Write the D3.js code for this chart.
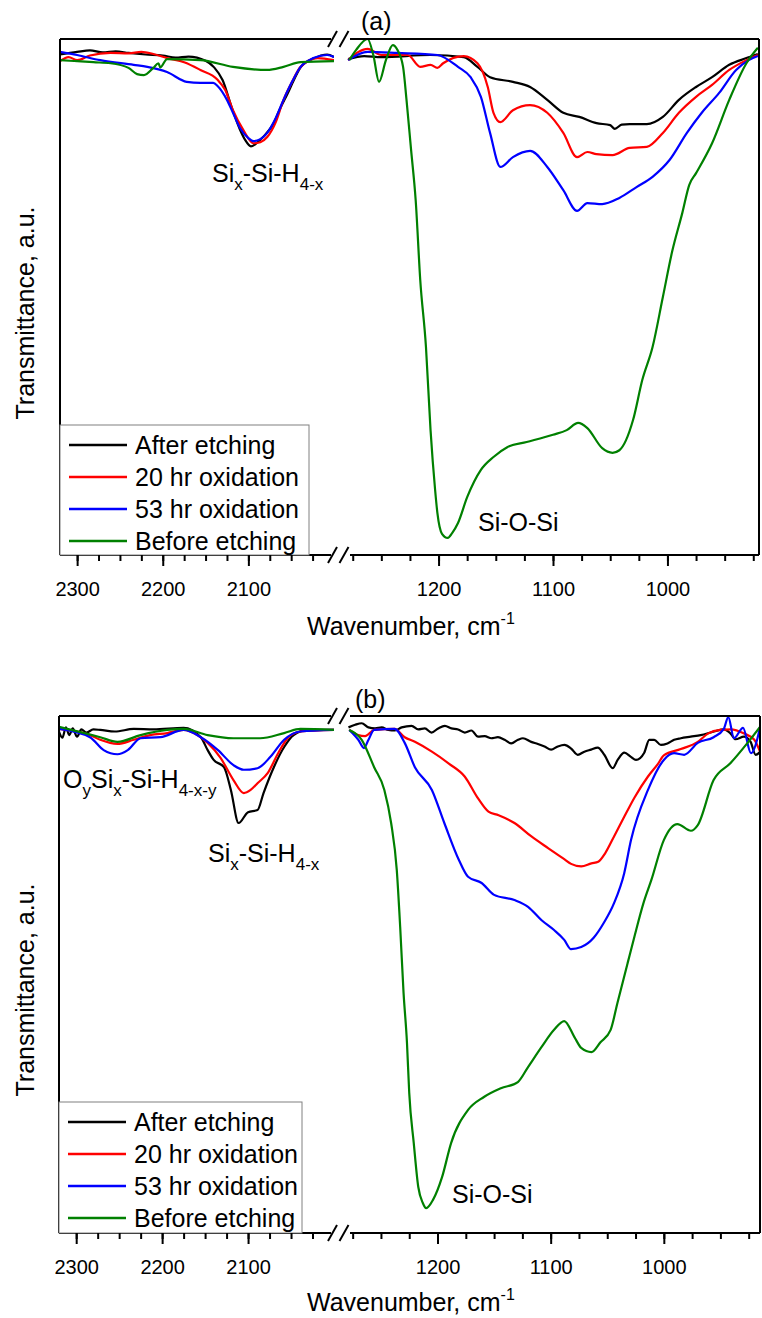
<!DOCTYPE html>
<html><head><meta charset="utf-8">
<script src="https://cdn.jsdelivr.net/npm/d3@7"></script>
<style>
body{margin:0;background:#fff;}
svg{display:block;font-family:"Liberation Sans",Arial,sans-serif;}
</style></head>
<body><svg id="chart" width="762" height="1318"></svg>
<script>
// ---------- DATA ----------
const seriesNames = ["After etching", "20 hr oxidation", "53 hr oxidation", "Before etching"];
const seriesColors = ["#000000", "#ff0000", "#0000ff", "#008000"];
const majorTicksLeft = [2300, 2200, 2100];
const majorTicksRight = [1200, 1100, 1000];
const minorTicksLeft = [2300, 2275, 2250, 2225, 2200, 2175, 2150, 2125, 2100, 2075, 2050, 2025];
const minorTicksRight = [1275, 1250, 1225, 1200, 1175, 1150, 1125, 1100, 1075, 1050, 1025, 1000, 975, 950, 925];

// panel (a): [wavenumber, transmittance a.u.]
const a_after = [[2320,97],[2300,97.5],[2285,97.8],[2270,97.4],[2255,97.6],[2240,97.3],[2220,97.0],[2200,96.8],[2185,96.4],[2170,96.6],[2150,95.8],[2140,94.5],[2130,92],[2120,87],[2110,82.5],[2104,80.5],[2097,79.2],[2092,79.6],[2086,80.5],[2080,81.5],[2071,83.5],[2063,86.5],[2054,89.5],[2047,92],[2039,94.5],[2024,96.2],[2008,97],[2000,96.5],
  [1279,96.1],[1265,96.7],[1250,96.5],[1207,96.9],[1178,96.5],[1166,94.6],[1155,92.6],[1135,91.7],[1120,90.7],[1105,88.2],[1091,85.7],[1077,84.9],[1062,83.7],[1050,83.3],[1046,82.6],[1040,83.4],[1033,83.5],[1018,83.5],[1004,84.9],[990,88.2],[975,90.7],[961,92.6],[946,95.0],[931,96.3],[921,97.1]];
const a_20hr = [[2320,95.7],[2310,96.5],[2300,95.9],[2285,96.8],[2261,97.3],[2240,97.2],[2225,97.5],[2211,97.1],[2195,96.3],[2175,95.5],[2156,94.0],[2136,92.1],[2127,90.1],[2118,86.2],[2106,82.4],[2094,79.8],[2086,80.0],[2078,81],[2068,83.9],[2059,88.2],[2049,91.7],[2039,94.6],[2019,96.3],[2000,95.9],
  [1279,95.9],[1270,97.5],[1262,98.1],[1250,96.9],[1227,96.9],[1216,94.6],[1207,95.0],[1201,94.4],[1196,95.3],[1178,96.7],[1166,95.3],[1157,90.7],[1152,85.7],[1146,83.9],[1135,86.2],[1120,87.2],[1105,85.7],[1091,81.8],[1079,77.1],[1070,78.1],[1062,77.7],[1048,77.5],[1033,78.9],[1018,79.1],[1004,81.8],[990,85.7],[975,88.8],[961,91.1],[946,94.0],[931,95.9],[921,96.9]];
const a_53hr = [[2320,97.5],[2300,96.9],[2273,95.9],[2234,95.0],[2218,94.6],[2195,93.6],[2172,91.7],[2156,91.5],[2141,91.5],[2136,90.9],[2125,88.2],[2118,85.7],[2110,82.8],[2100,80.8],[2094,80.2],[2086,80.6],[2078,81.8],[2068,84.7],[2059,88.2],[2049,91.7],[2039,94.6],[2024,96.3],[2008,96.9],[2000,96.5],
  [1279,95.9],[1262,97.5],[1236,97.3],[1201,96.9],[1183,94.6],[1172,92.6],[1163,88.8],[1155,81.8],[1146,75.2],[1135,77.1],[1120,78.3],[1105,75.2],[1091,70.7],[1079,66.7],[1070,68.2],[1057,68.0],[1042,69.2],[1027,71.3],[1013,73.3],[998,76.6],[983,81.8],[970,85.7],[955,89.5],[940,94.0],[929,95.9],[921,96.7]];
const a_before = [[2320,95.9],[2300,95.7],[2281,95.5],[2261,95.3],[2240,94.4],[2230,93.2],[2222,93.0],[2211,94.4],[2205,95.3],[2203,94.5],[2195,96.1],[2156,95.9],[2118,94.6],[2078,94.0],[2059,94.6],[2039,95.5],[2000,95.7],
  [1278,95.9],[1272,97.9],[1262,100],[1257,96.9],[1252,91.7],[1246,95.9],[1240,98.8],[1236,97.9],[1231,94.6],[1228,88.2],[1224,78.5],[1220,68.8],[1216,53.3],[1211,40.3],[1207,24.2],[1203,12.6],[1201,8.1],[1197,4.1],[1192,3.3],[1188,4.3],[1183,6.2],[1175,11.2],[1163,16.5],[1152,19.0],[1140,20.9],[1123,21.9],[1100,23.3],[1088,24.2],[1078,25.6],[1070,24.6],[1057,20.7],[1048,19.8],[1042,20.3],[1030,26.2],[1022,33.9],[1013,40.3],[1004,50.0],[996,58.7],[987,66.3],[981,71.7],[975,74.0],[961,79.8],[946,88.2],[931,95.3],[921,98.3]];

// panel (b)
const b_after = [[2320,97.0],[2316,95.8],[2312,97.8],[2308,96.3],[2304,97.6],[2299,96.0],[2294,97.4],[2288,96.8],[2280,97.4],[2272,97.3],[2255,97.0],[2233,97.5],[2210,97.4],[2175,97.7],[2155,95.9],[2147,93.4],[2140,91.5],[2128,90.1],[2120,85.7],[2111,79.3],[2100,81.4],[2089,81.8],[2082,85.1],[2070,90.1],[2058,94.0],[2047,96.3],[2030,97.3],[2000,97.3],
  [1278.7,97.8],[1272.8,98.3],[1267,98.6],[1261.1,97.8],[1255.2,97.6],[1249.3,97.8],[1243.5,97.3],[1237.6,97.2],[1231.7,97.8],[1222.9,98.1],[1217,97.4],[1211.2,97.6],[1205.3,96.8],[1199.4,97.6],[1193.5,98.1],[1187.7,97.6],[1181.8,97.4],[1175.9,96.8],[1170,97.2],[1164.2,96.0],[1158.3,96.1],[1152.4,95.7],[1146.6,95.9],[1140.7,95.4],[1134.8,94.7],[1128.9,95.4],[1124.5,95.7],[1117.2,95.0],[1111.3,94.6],[1105.4,94.1],[1099.6,93.5],[1093.7,94.1],[1087.8,94.4],[1081.9,93.7],[1076.1,92.5],[1070.2,93.1],[1064.3,93.5],[1058.4,93.9],[1052.6,92.5],[1045.2,89.9],[1040.8,91.5],[1034.9,92.9],[1029.1,92.1],[1024.6,91.5],[1017.3,92.9],[1012.9,95.4],[1008.5,95.4],[1002.6,94.4],[996.8,94.7],[990.9,95.4],[985,95.7],[976.2,96.0],[967.4,96.3],[955.7,97.0],[946.8,97.4],[941,96.6],[936.6,95.5],[929.2,96.0],[923.3,95.0],[918.9,92.5],[914.5,93.1]];
const b_20hr = [[2320,97.5],[2284,96.3],[2272,95.4],[2252,94.6],[2233,95.4],[2214,96.3],[2194,96.7],[2175,97.3],[2159,96.3],[2147,94.8],[2132,91.9],[2117,87.6],[2105,85.1],[2097,85.7],[2089,87.0],[2077,89.0],[2065,92.8],[2054,95.7],[2039,97.0],[2000,97.3],
  [1278,97.3],[1270,96.3],[1264,96.1],[1256,97.3],[1238,97.5],[1229,95.9],[1220,95.0],[1205,93.1],[1190,90.8],[1176,88.3],[1164,84.0],[1155,81.5],[1146,80.8],[1132,79.3],[1117,76.7],[1102,74.4],[1088,72.3],[1082,71.4],[1073,70.9],[1064,71.5],[1058,71.8],[1052,73.4],[1044,76.7],[1035,80.5],[1026,84.2],[1014,88.3],[1005,90.8],[1000,92.4],[985,93.6],[970,95.0],[961,96.6],[950,97.3],[941,97.4],[929,96.6],[920,95.4],[915,93.1]];
const b_53hr = [[2320,97.5],[2284,95.9],[2268,93.4],[2252,92.6],[2240,93.4],[2225,95.7],[2202,95.9],[2175,97.3],[2155,95.9],[2135,93.4],[2117,90.5],[2105,89.6],[2089,89.9],[2074,92.1],[2058,95.4],[2039,97.0],[2000,97.3],
  [1278,97.3],[1270,95.4],[1265,93.8],[1261,95.4],[1256,97.3],[1238,97.5],[1229,94.8],[1220,90.1],[1205,85.7],[1194,79.3],[1181,72.1],[1173,68.9],[1161,67.7],[1150,65.4],[1132,64.4],[1120,63.1],[1108,60.5],[1097,58.6],[1088,56.7],[1082,54.9],[1073,55.3],[1062,57.1],[1053,60.0],[1044,63.8],[1035,69.6],[1029,76.0],[1014,85.7],[1000,91.5],[991,92.8],[982,92.5],[970,94.8],[956,95.9],[947,97.5],[943,99.8],[938,95.7],[930,97.7],[923,92.8],[917,95.9],[915,97.9]];
const b_before = [[2320,97.9],[2272,95.9],[2252,95.0],[2225,96.3],[2194,97.3],[2175,97.5],[2147,96.3],[2117,95.7],[2086,95.7],[2058,96.7],[2039,97.5],[2000,97.3],
  [1278,97.3],[1267,95.4],[1256,90.1],[1247,85.7],[1241,79.3],[1236,70.2],[1233,59.2],[1230,46.4],[1227,36.8],[1225,27.1],[1221,17.4],[1217,8.9],[1213,5.8],[1210,4.8],[1204,6.4],[1196,10.8],[1188,17.4],[1173,23.8],[1159,26.3],[1144,28.0],[1129,29.2],[1120,32.1],[1108,36.0],[1097,39.3],[1088,41.0],[1079,37.9],[1073,35.8],[1064,35.0],[1056,36.9],[1047,39.3],[1041,44.5],[1032,52.2],[1026,57.3],[1018,63.8],[1011,68.3],[1000,76.0],[988,79.1],[976,77.8],[970,78.9],[956,87.6],[941,90.9],[926,94.8],[915,97.9]];

const panelA = [a_after, a_20hr, a_53hr, a_before];
const panelB = [b_after, b_20hr, b_53hr, b_before];

// ---------- DRAW ----------
const svg = d3.select("#chart");
const FONT = 25;

function drawPanel(cfg, series) {
  const g = svg.append("g");
  const xL = d3.scaleLinear().domain([2320, 2000]).range([cfg.left, cfg.breakL]);
  const xR = d3.scaleLinear().domain([1280, cfg.wnEnd]).range([cfg.breakR, cfg.right]);
  const y = d3.scaleLinear().domain([0, 100]).range([cfg.bottom, cfg.top]);

  const idL = "clipL" + cfg.name, idR = "clipR" + cfg.name;
  const defs = svg.append("defs");
  defs.append("clipPath").attr("id", idL).append("rect")
    .attr("x", cfg.left).attr("y", cfg.top - 2).attr("width", cfg.breakL - cfg.left).attr("height", cfg.bottom - cfg.top + 2);
  defs.append("clipPath").attr("id", idR).append("rect")
    .attr("x", cfg.breakR).attr("y", cfg.top - 2).attr("width", cfg.right - cfg.breakR).attr("height", cfg.bottom - cfg.top + 2);

  series.forEach((s, i) => {
    const left = s.filter(d => d[0] > 1600);
    const right = s.filter(d => d[0] < 1600);
    const lineL = d3.line().x(d => xL(d[0])).y(d => y(d[1])).curve(d3.curveMonotoneX);
    const lineR = d3.line().x(d => xR(d[0])).y(d => y(d[1])).curve(d3.curveMonotoneX);
    g.append("path").attr("d", lineL(left)).attr("fill", "none")
      .attr("stroke", seriesColors[i]).attr("stroke-width", 2.2).attr("stroke-linejoin", "round")
      .attr("clip-path", `url(#${idL})`);
    g.append("path").attr("d", lineR(right)).attr("fill", "none")
      .attr("stroke", seriesColors[i]).attr("stroke-width", 2.2).attr("stroke-linejoin", "round")
      .attr("clip-path", `url(#${idR})`);
  });

  // frame
  const fr = g.append("g").attr("stroke", "#000").attr("stroke-width", 2).attr("fill", "none");
  fr.append("line").attr("x1", cfg.left).attr("x2", cfg.breakL - 3).attr("y1", cfg.top).attr("y2", cfg.top);
  fr.append("line").attr("x1", cfg.breakR + 3).attr("x2", cfg.right).attr("y1", cfg.top).attr("y2", cfg.top);
  fr.append("line").attr("x1", cfg.left).attr("x2", cfg.left).attr("y1", cfg.top).attr("y2", cfg.bottom);
  fr.append("line").attr("x1", cfg.right).attr("x2", cfg.right).attr("y1", cfg.top).attr("y2", cfg.bottom);

  // legend
  const lg = g.append("g");
  lg.append("rect").attr("x", cfg.left).attr("y", cfg.legTop)
    .attr("width", cfg.legRight - cfg.left).attr("height", cfg.bottom - cfg.legTop)
    .attr("fill", "#fff").attr("stroke", "#808080").attr("stroke-width", 1);
  seriesNames.forEach((n, i) => {
    const yy = cfg.legTop + cfg.legRow0 + i * cfg.legStep;
    lg.append("line").attr("x1", cfg.left + 9).attr("x2", cfg.left + 67).attr("y1", yy).attr("y2", yy)
      .attr("stroke", seriesColors[i]).attr("stroke-width", 2.5);
    lg.append("text").attr("x", cfg.left + 75).attr("y", yy + 9).attr("font-size", FONT).attr("fill", "#000").text(n);
  });

  // x axes
  const axL = d3.axisBottom(xL).tickValues(majorTicksLeft).tickSize(11).tickSizeOuter(0).tickFormat(d3.format("d"));
  const axLm = d3.axisBottom(xL).tickValues(minorTicksLeft).tickSize(6).tickSizeOuter(0).tickFormat("");
  const axR = d3.axisBottom(xR).tickValues(majorTicksRight).tickSize(11).tickSizeOuter(0).tickFormat(d3.format("d"));
  const axRm = d3.axisBottom(xR).tickValues(minorTicksRight).tickSize(6).tickSizeOuter(0).tickFormat("");
  [axLm, axL, axRm, axR].forEach(ax => {
    const a = g.append("g").attr("transform", `translate(0,${cfg.bottom})`).call(ax);
    a.selectAll("path.domain").remove();
    a.selectAll("line").attr("stroke", "#000").attr("stroke-width", 2);
    a.selectAll("text").attr("font-size", 20).attr("fill", "#000").attr("dy", "1.35em")
      .attr("font-family", "Liberation Sans, Arial, sans-serif");
  });
  fr.append("line").attr("x1", cfg.left).attr("x2", cfg.breakL - 3).attr("y1", cfg.bottom).attr("y2", cfg.bottom);
  fr.append("line").attr("x1", cfg.breakR + 3).attr("x2", cfg.right).attr("y1", cfg.bottom).attr("y2", cfg.bottom);

  // break marks
  [cfg.top, cfg.bottom].forEach(yy => {
    [cfg.breakL - 1.5, cfg.breakL + 10].forEach(cx => {
      g.append("line").attr("x1", cx - 4.5).attr("y1", yy + 8).attr("x2", cx + 4.5).attr("y2", yy - 8)
        .attr("stroke", "#000").attr("stroke-width", 2);
    });
  });

  // axis titles
  const xt = g.append("text").attr("x", cfg.xTitleX).attr("y", cfg.xTitleY).attr("font-size", FONT).attr("fill", "#000");
  xt.append("tspan").text("Wavenumber, cm");
  xt.append("tspan").attr("font-size", 16).attr("dy", -11).text("-1");
  g.append("text").attr("transform", `translate(34,${cfg.yTitleY}) rotate(-90)`)
    .attr("text-anchor", "middle").attr("font-size", FONT).attr("fill", "#000").text("Transmittance, a.u.");

  g.append("text").attr("x", cfg.labelX).attr("y", cfg.labelY).attr("font-size", FONT).attr("fill", "#000").text(cfg.label);
  return {xL, xR, y, g};
}

function subText(g, x, yb, parts) {
  const t = g.append("text").attr("x", x).attr("y", yb).attr("font-size", FONT).attr("fill", "#000");
  let shifted = false;
  parts.forEach(p => {
    const ts = t.append("tspan").text(p[0]);
    if (p[1] && !shifted) { ts.attr("font-size", 17).attr("dy", 8); shifted = true; }
    else if (!p[1] && shifted) { ts.attr("dy", -8); shifted = false; }
    else if (p[1]) ts.attr("font-size", 17);
  });
}

const A = drawPanel({name: "a", label: "(a)", top: 39, bottom: 555, left: 60, right: 759, breakL: 334, breakR: 347, wnEnd: 920,
  legTop: 425, legRight: 309, legRow0: 20, legStep: 32, xTitleX: 307, xTitleY: 635, yTitleY: 313, labelX: 361, labelY: 30}, panelA);
const B = drawPanel({name: "b", label: "(b)", top: 716, bottom: 1233, left: 59, right: 760, breakL: 334, breakR: 347, wnEnd: 915,
  legTop: 1102, legRight: 302, legRow0: 20, legStep: 32, xTitleX: 307, xTitleY: 1311, yTitleY: 990, labelX: 355, labelY: 708}, panelB);

subText(A.g, 212, 182, [["Si"], ["x", 1], ["-Si-H"], ["4-x", 1]]);
A.g.append("text").attr("x", 478).attr("y", 531).attr("font-size", FONT).attr("fill", "#000").text("Si-O-Si");
subText(B.g, 63, 788, [["O"], ["y", 1], ["Si"], ["x", 1], ["-Si-H"], ["4-x-y", 1]]);
subText(B.g, 208, 862, [["Si"], ["x", 1], ["-Si-H"], ["4-x", 1]]);
B.g.append("text").attr("x", 452).attr("y", 1203).attr("font-size", FONT).attr("fill", "#000").text("Si-O-Si");
</script>
</body></html>
